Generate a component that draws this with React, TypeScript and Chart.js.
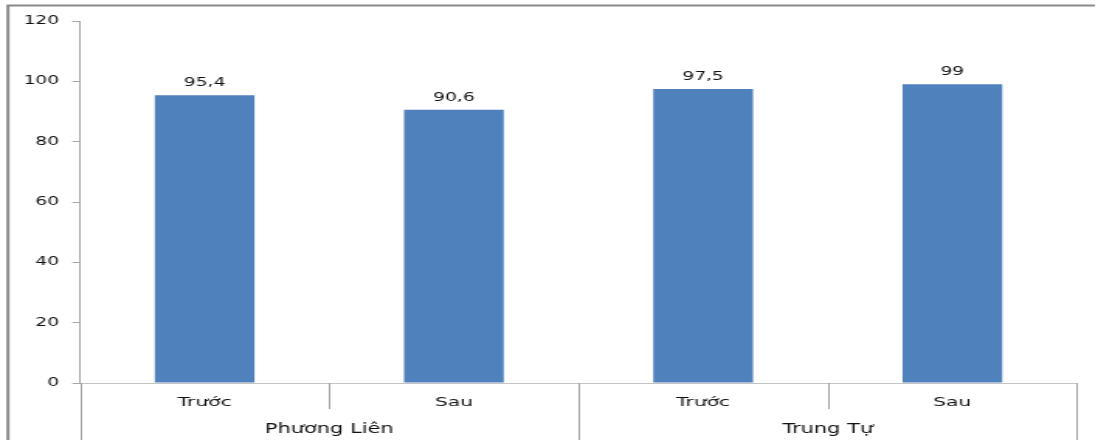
import { useEffect, useRef } from "react";
import { Chart, registerables } from "chart.js";

Chart.register(...registerables);

// Two-level category axis: location (group) and phase (before / after)
const groups = ["Phương Liên", "Trung Tự"];
const categories = ["Trước", "Sau", "Trước", "Sau"];
const categoryGroup = [0, 0, 1, 1];
const values = [95.4, 90.6, 97.5, 99];
const yMax = 120;
const yStep = 20;

// The chart is rendered on a narrower canvas and widened horizontally,
// giving the wide lettering of the original graphic.
const OUT_W = 1098;
const OUT_H = 440;
const CANVAS_W = 708;
const STRETCH = OUT_W / CANVAS_W;
const sx = (x: number) => x / STRETCH;

const FONT = "'DejaVu Sans', Verdana, sans-serif";
const TEXT = "#111111";
const BAR = "#4F81BD";

const formatValue = (v: number) => String(v).replace(".", ",");

const frame = {
  id: "frame",
  beforeDraw(chart: Chart) {
    const { ctx } = chart;
    ctx.save();
    ctx.strokeStyle = "#8a8a8a";
    ctx.lineWidth = 2;
    ctx.beginPath();
    ctx.moveTo(sx(8), OUT_H);
    ctx.lineTo(sx(8), 5.5);
    ctx.lineTo(sx(1095), 5.5);
    ctx.stroke();
    ctx.restore();
  },
};

const groupAxis = {
  id: "groupAxis",
  afterDraw(chart: Chart) {
    const { ctx } = chart;
    const x = chart.scales.x;
    const n = categories.length;
    const base = x.bottom - x.height; // axis line
    const boundary = (i: number) => {
      if (i === 0) return x.left;
      if (i === n) return x.right;
      return (x.getPixelForValue(i - 1) + x.getPixelForValue(i)) / 2;
    };
    ctx.save();
    ctx.strokeStyle = "#a3a3a3";
    ctx.lineWidth = 1;
    for (let i = 0; i <= n; i++) {
      const isGroupEdge =
        i === 0 || i === n || categoryGroup[i] !== categoryGroup[i - 1];
      const bx = Math.round(boundary(i)) + 0.5;
      ctx.beginPath();
      ctx.moveTo(bx, base);
      ctx.lineTo(bx, isGroupEdge ? OUT_H : base + 26);
      ctx.stroke();
    }
    ctx.fillStyle = TEXT;
    ctx.font = `13.5px ${FONT}`;
    ctx.textAlign = "center";
    ctx.textBaseline = "alphabetic";
    groups.forEach((g, gi) => {
      const idx = categoryGroup
        .map((c, i) => (c === gi ? i : -1))
        .filter((i) => i >= 0);
      const left = boundary(idx[0]);
      const right = boundary(idx[idx.length - 1] + 1);
      ctx.fillText(g, (left + right) / 2, 433);
    });
    ctx.restore();
  },
};

const valueLabels = {
  id: "valueLabels",
  afterDatasetsDraw(chart: Chart) {
    const { ctx } = chart;
    const meta = chart.getDatasetMeta(0);
    ctx.save();
    ctx.fillStyle = TEXT;
    ctx.font = `12px ${FONT}`;
    ctx.textAlign = "center";
    ctx.textBaseline = "alphabetic";
    meta.data.forEach((el: any, i: number) => {
      ctx.fillText(formatValue(values[i]), el.x, el.y - 9);
    });
    ctx.restore();
  },
};

export default function App() {
  const canvasRef = useRef<HTMLCanvasElement | null>(null);

  useEffect(() => {
    if (!canvasRef.current) return;
    const chart = new Chart(canvasRef.current, {
      type: "bar",
      data: {
        labels: categories,
        datasets: [
          {
            data: values,
            backgroundColor: BAR,
            borderWidth: 0,
            barPercentage: 0.4,
            categoryPercentage: 1,
          },
        ],
      },
      options: {
        responsive: false,
        animation: false,
        devicePixelRatio: 1,
        layout: {
          padding: { top: 21, right: CANVAS_W - sx(1077), left: 0, bottom: 0 },
        },
        plugins: {
          legend: { display: false },
          tooltip: { enabled: false },
        },
        scales: {
          x: {
            offset: true,
            grid: { display: true, drawOnChartArea: false, drawTicks: false },
            border: { display: true, color: "#c4c4c4", width: 1 },
            ticks: {
              padding: 12,
              color: TEXT,
              font: { family: FONT, size: 13 },
              maxRotation: 0,
            },
            afterFit(scale: any) {
              scale.height = 57;
            },
          },
          y: {
            min: 0,
            max: yMax,
            ticks: {
              stepSize: yStep,
              padding: 8.5,
              color: TEXT,
              font: { family: FONT, size: 12 },
            },
            grid: {
              drawOnChartArea: false,
              drawTicks: true,
              tickLength: 5,
              color: "#a6a6a6",
            },
            border: { display: true, color: "#a6a6a6", width: 1 },
            afterFit(scale: any) {
              scale.width = sx(80);
            },
          },
        },
      },
      plugins: [frame, groupAxis, valueLabels],
    });
    return () => chart.destroy();
  }, []);

  return (
    <div
      style={{
        position: "absolute",
        left: 0,
        top: 0,
        width: OUT_W,
        height: OUT_H,
        overflow: "hidden",
        background: "#ffffff",
      }}
    >
      <canvas
        ref={canvasRef}
        width={CANVAS_W}
        height={OUT_H}
        style={{
          display: "block",
          width: CANVAS_W,
          height: OUT_H,
          transform: `scaleX(${STRETCH})`,
          transformOrigin: "0 0",
        }}
      />
    </div>
  );
}
